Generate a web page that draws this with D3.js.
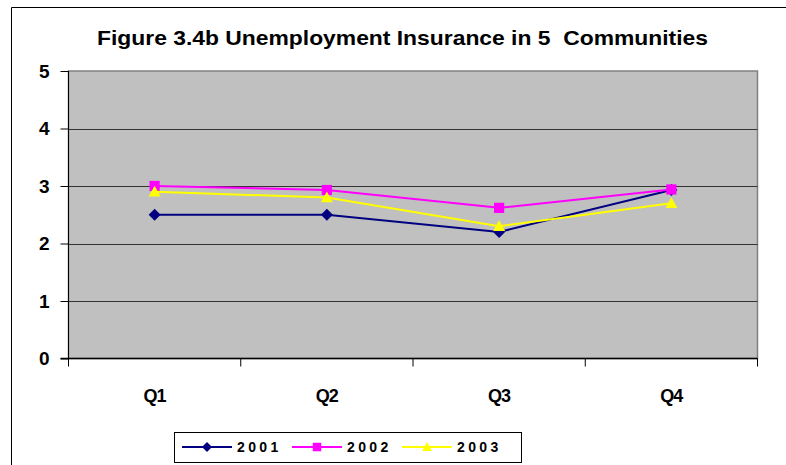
<!DOCTYPE html>
<html>
<head>
<meta charset="utf-8">
<script src="https://cdn.jsdelivr.net/npm/d3@7/dist/d3.min.js"></script>
<style>
  html, body { margin: 0; padding: 0; background: #fff; }
  svg { display: block; font-family: "Liberation Sans", Arial, sans-serif; }
</style>
</head>
<body>
<svg id="chart" width="786" height="465"></svg>
<script>
// Quarterly values per year
const quarters = ["Q1", "Q2", "Q3", "Q4"];
const years = ["2001", "2002", "2003"];
const values2001 = [2.5, 2.5, 2.2, 2.93];
const values2002 = [3.0, 2.93, 2.62, 2.94];
const values2003 = [2.9, 2.8, 2.3, 2.7];
const yTicks = [0, 1, 2, 3, 4, 5];
const colors = ["#000080", "#FF00FF", "#FFFF00"];

// Marker shapes: diamond, square, triangle (path generators with a half-size r)
const shapes = [
  r => `M0,${-r}L${r},0L0,${r}L${-r},0Z`,
  r => { const s = r * 0.85; return `M${-s},${-s}H${s}V${s}H${-s}Z`; },
  r => `M0,${-r}L${r},${r * 0.8}L${-r},${r * 0.8}Z`
];

const seriesList = [values2001, values2002, values2003].map((v, i) => ({
  name: years[i], values: v, color: colors[i], shape: shapes[i]
}));

const svg = d3.select("#chart");
const plot = { left: 68.5, right: 757.5, top: 71, bottom: 358.5 };

// Outer chart frame
svg.append("path")
  .attr("d", "M11.5,470 V7.5 H790")
  .attr("fill", "none").attr("stroke", "#000").attr("stroke-width", 1);

// Title
svg.append("text")
  .attr("x", 97).attr("y", 45)
  .attr("font-size", 21).attr("font-weight", "bold")
  .attr("textLength", 611).attr("lengthAdjust", "spacingAndGlyphs")
  .style("white-space", "pre")
  .text("Figure 3.4b Unemployment Insurance in 5  Communities");

const x = d3.scaleBand().domain(quarters).range([plot.left, plot.right]).padding(0);
const y = d3.scaleLinear().domain([0, 5]).range([plot.bottom, plot.top]);

// Plot area background
svg.append("rect")
  .attr("x", plot.left).attr("y", plot.top)
  .attr("width", plot.right - plot.left).attr("height", plot.bottom - plot.top)
  .attr("fill", "#C0C0C0").attr("stroke", "#808080").attr("stroke-width", 1.5);

// Horizontal gridlines
svg.append("g").selectAll("line")
  .data(yTicks.filter(t => t > 0 && t < 5))
  .join("line")
  .attr("x1", plot.left).attr("x2", plot.right)
  .attr("y1", d => Math.round(y(d)) + 0.5).attr("y2", d => Math.round(y(d)) + 0.5)
  .attr("stroke", "#333").attr("stroke-width", 1);

// Y axis
const yAxis = svg.append("g")
  .attr("transform", `translate(${plot.left},0)`)
  .call(d3.axisLeft(y).tickValues(yTicks).tickSize(8).tickPadding(11).tickFormat(d3.format("d")));
yAxis.selectAll("line, path").attr("stroke", "#000");
yAxis.select(".domain").attr("d", `M0,${plot.top}V${plot.bottom}`);
yAxis.selectAll("text")
  .attr("font-size", 19).attr("font-weight", "bold")
  .attr("font-family", "Liberation Sans, Arial, sans-serif").attr("fill", "#000");

// X axis with ticks between categories
const xAxis = svg.append("g")
  .attr("transform", `translate(0,${plot.bottom})`);
xAxis.append("line")
  .attr("x1", plot.left - 8).attr("x2", plot.right)
  .attr("stroke", "#000").attr("stroke-width", 1.5);
const boundaries = quarters.map(q => x(q)).concat([x(quarters[quarters.length - 1]) + x.bandwidth()]);
xAxis.selectAll("line.tick")
  .data(boundaries)
  .join("line").attr("class", "tick")
  .attr("x1", d => d).attr("x2", d => d)
  .attr("y1", 0).attr("y2", 8)
  .attr("stroke", "#000");
xAxis.selectAll("text")
  .data(quarters)
  .join("text")
  .attr("x", d => x(d) + x.bandwidth() / 2)
  .attr("y", 43)
  .attr("text-anchor", "middle")
  .attr("font-size", 18).attr("font-weight", "bold")
  .attr("letter-spacing", -1)
  .text(d => d);

// Series lines and markers
const line = d3.line()
  .x((d, i) => x(quarters[i]) + x.bandwidth() / 2)
  .y(d => y(d));

const series = svg.append("g").selectAll("g")
  .data(seriesList)
  .join("g");

series.append("path")
  .attr("d", d => line(d.values))
  .attr("fill", "none")
  .attr("stroke", d => d.color)
  .attr("stroke-width", 2);

series.each(function (s) {
  d3.select(this).selectAll("path.marker")
    .data(s.values)
    .join("path").attr("class", "marker")
    .attr("transform", (d, i) => `translate(${x(quarters[i]) + x.bandwidth() / 2},${y(d)})`)
    .attr("d", s.shape(6))
    .attr("fill", s.color);
});

// Legend
const legend = svg.append("g");
legend.append("rect")
  .attr("x", 174.5).attr("y", 432.5).attr("width", 347).attr("height", 30)
  .attr("fill", "#fff").attr("stroke", "#000");

const legendItems = legend.selectAll("g.item")
  .data(seriesList)
  .join("g").attr("class", "item")
  .attr("transform", (d, i) => `translate(${182 + i * 110},447)`);

legendItems.append("line")
  .attr("x1", 0).attr("x2", 50)
  .attr("stroke", d => d.color).attr("stroke-width", 2);
legendItems.append("path")
  .attr("transform", "translate(25,0)")
  .attr("d", d => d.shape(5))
  .attr("fill", d => d.color);
legendItems.append("text")
  .attr("x", 55).attr("y", 5)
  .attr("font-size", 14).attr("font-weight", "bold")
  .attr("letter-spacing", 3.4)
  .text(d => d.name);
</script>
</body>
</html>
